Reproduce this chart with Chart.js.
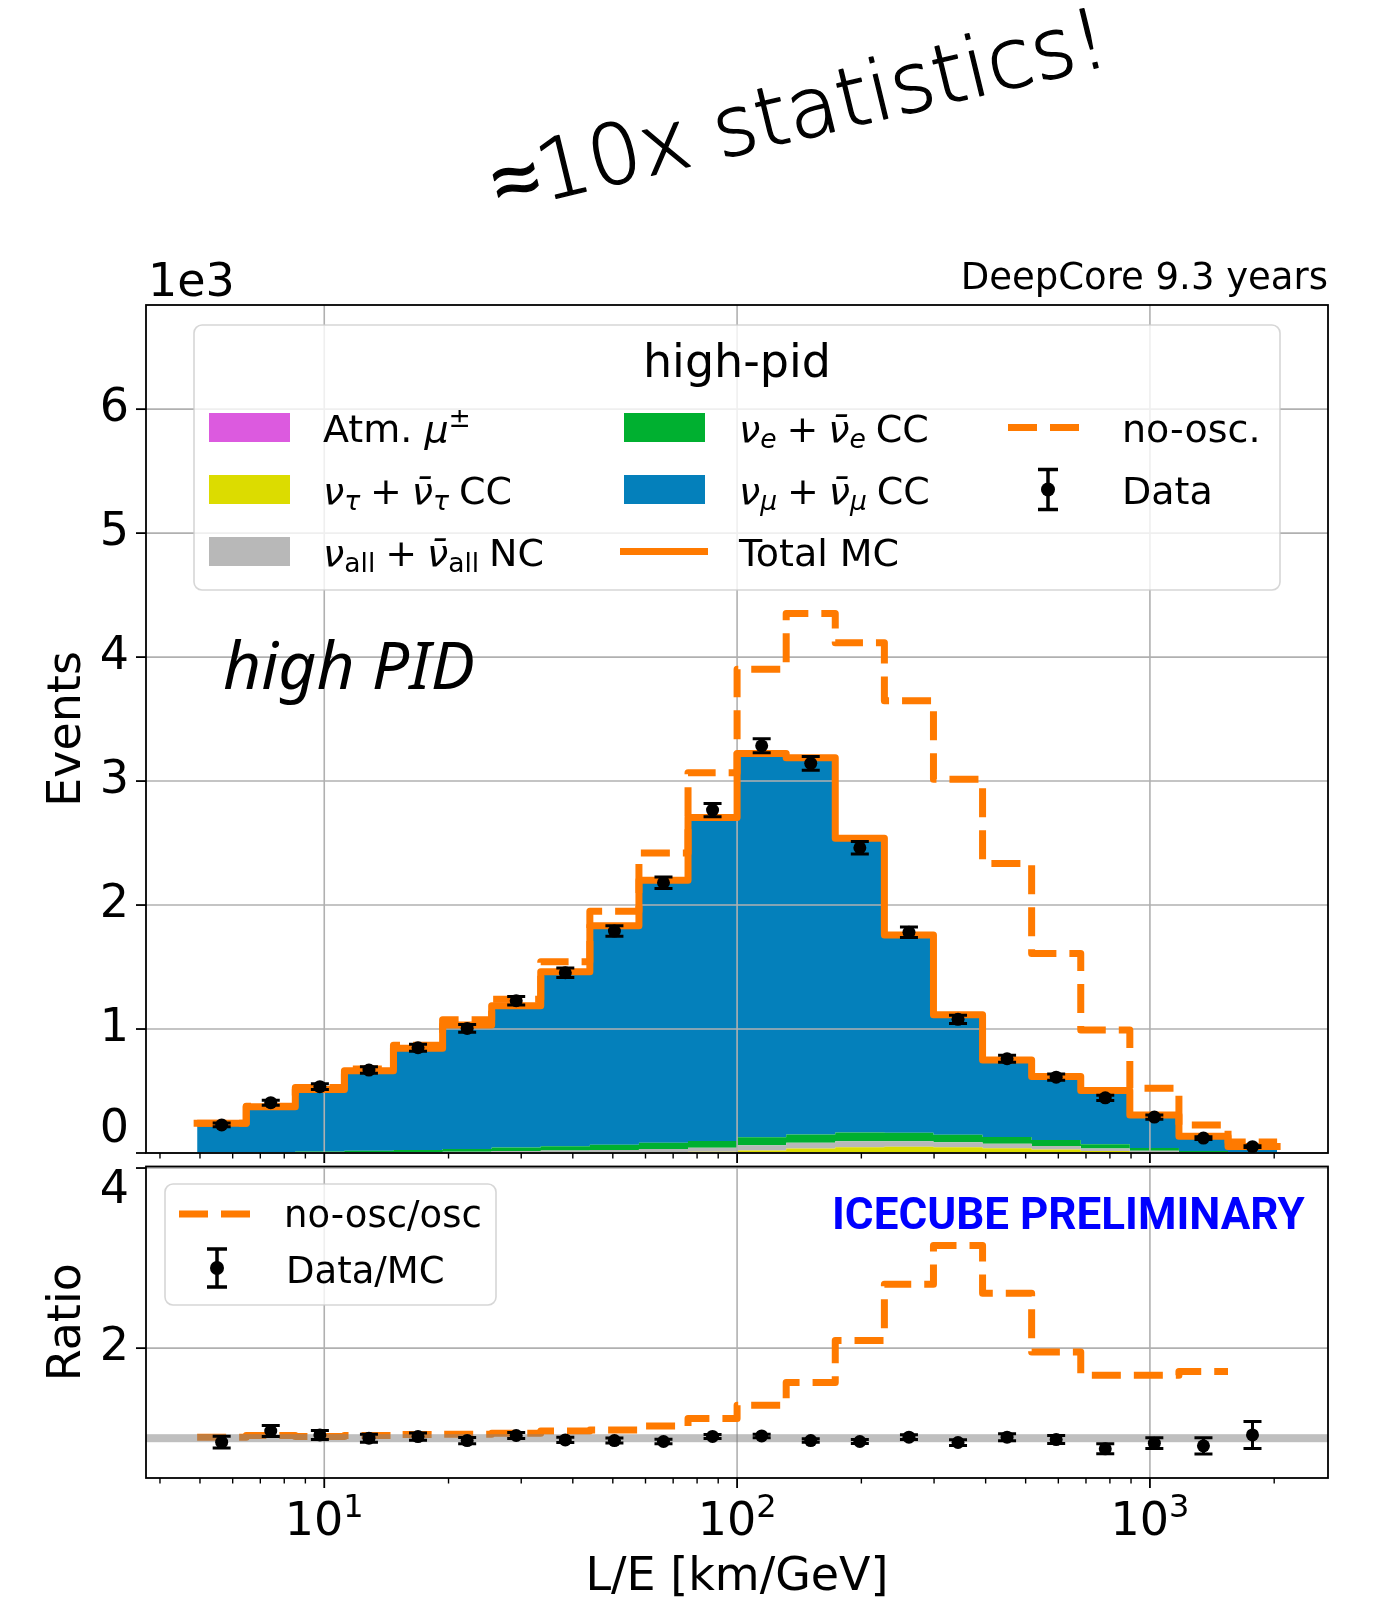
<!DOCTYPE html>
<html><head><meta charset="utf-8">
<script src="https://cdn.jsdelivr.net/npm/chart.js@4.4.0/dist/chart.umd.min.js"></script>
<style>
html,body{margin:0;padding:0;background:#fff;}
#wrap{position:relative;width:1378px;height:1602px;overflow:hidden;background:#fff;}
canvas{position:absolute;left:0;}
</style></head><body>
<div id="wrap">
<canvas id="main" width="1378" height="1165" style="top:0px"></canvas>
<canvas id="ratio" width="1378" height="446" style="top:1160px"></canvas>
</div>
<script>
// ---------------- data ----------------
const binEdges = [4.921, 6.471, 8.509, 11.19, 14.71, 19.35, 25.44, 33.45, 43.99, 57.84, 76.06, 100.0, 131.5, 172.9, 227.4, 299.0, 393.2, 517.0, 679.9, 894.0, 1175.6, 1545.9, 2032.8];
const binCenters = [5.643, 7.420, 9.759, 12.83, 16.87, 22.19, 29.17, 38.36, 50.45, 66.33, 87.21, 114.7, 150.8, 198.3, 260.8, 342.9, 450.8, 592.8, 779.5, 1025, 1348, 1772];

const atmMu   = [0,0,0,0,0,0,1,1,1,1,2,2,2,2,2,1,1,1,1,0,0,0];
const nuTauCC = [0,0,0,0,0,1,2,3,4,6,8,19,35,45,48,45,38,28,15,6,2,1];
const nuAllNC = [2,3,4,6,8,10,13,16,20,26,32,42,45,48,45,40,35,28,20,12,5,2];
const nuECC   = [3,5,8,12,17,22,28,35,42,50,55,65,68,70,68,62,55,48,35,22,10,4];
const nuMuCC  = [234,365,501,646,819,999,1144,1407,1766,2117,2610,3095,3038,2373,1595,967,621,513,433,266,118,45];
const totalMC = [239,373,513,664,844,1032,1188,1462,1833,2200,2707,3223,3188,2538,1758,1115,750,618,504,306,135,52];
const noOsc   = [240,378,528,678,870,1075,1240,1543,1950,2420,3067,3901,4352,4115,3648,3014,2336,1610,992,522,226,88];
const dataCounts = [226,406,535,669,849,1005,1228,1454,1790,2180,2766,3285,3143,2462,1780,1078,760,612,445,290,120,51];
const dataErrors = [15,20,23,26,29,32,35,38,42,47,53,57,56,50,42,33,28,25,21,17,11,7];

const ratioNoOsc = [1.01,1.03,1.02,1.03,1.04,1.045,1.055,1.08,1.09,1.135,1.22,1.367,1.618,2.085,2.71,3.14,2.61,1.956,1.70,1.70,1.74];
const ratioData = [0.956,1.08,1.036,1.0,1.018,0.974,1.03,0.981,0.974,0.963,1.02,1.025,0.974,0.963,1.011,0.952,1.011,0.985,0.882,0.945,0.915,1.036];
const ratioDataErr = [0.065,0.06,0.05,0.045,0.04,0.035,0.032,0.03,0.027,0.025,0.022,0.02,0.02,0.022,0.026,0.032,0.038,0.045,0.055,0.06,0.09,0.15];

const mainYTicks = [0,1000,2000,3000,4000,5000,6000];
const mainYTickLabels = ['0','1','2','3','4','5','6'];
const ratioYTicks = [2,4];
const ratioYTickLabels = ['2','4'];
const xMajorTicks = [10,100,1000];
const xTickExponents = ['1','2','3'];
const xMinorTicks = [4,5,6,7,8,9,20,30,40,50,60,70,80,90,200,300,400,500,600,700,800,900,2000];

// ---------------- style ----------------
const FONT = "'DejaVu Sans', sans-serif";
const ORANGE = '#ff7a00';
const LW = 7;
const DASH = [29, 13];
const COL = {mu:'#dc5adf', tau:'#dcdc00', nc:'#b8b8b8', e:'#00b030', numu:'#0480bb'};
const X_MIN = 3.70, X_MAX = 2700;

Chart.defaults.font.family = FONT;
Chart.defaults.color = '#000';

function stepPoints(vals){
  const pts = vals.map((v,i)=>({x:binEdges[i], y:v}));
  pts.push({x:binEdges[vals.length], y:vals[vals.length-1]});
  return pts;
}
function fillDs(label, vals, color, fill){
  return {label, data: stepPoints(vals), stepped:'before', backgroundColor: color,
    borderColor:'rgba(0,0,0,0)', borderWidth:0, pointRadius:0, fill, stack:'mc', order:10};
}

function drawGrid(chart, yTicks){
  const {ctx, chartArea:a, scales:{x,y}} = chart;
  ctx.save();
  ctx.strokeStyle = '#b0b0b0'; ctx.lineWidth = 1.6;
  yTicks.forEach(v=>{
    const py = y.getPixelForValue(v);
    if (py < a.top-0.5 || py > a.bottom+0.5) return;
    ctx.beginPath(); ctx.moveTo(a.left,py); ctx.lineTo(a.right,py); ctx.stroke();
  });
  xMajorTicks.forEach(v=>{
    const px = x.getPixelForValue(v);
    if (px < a.left || px > a.right) return;
    ctx.beginPath(); ctx.moveTo(px,a.top); ctx.lineTo(px,a.bottom); ctx.stroke();
  });
  ctx.restore();
}

function drawErrorBars(chart){
  const ctx = chart.ctx, ys = chart.scales.y;
  chart.data.datasets.forEach((ds,di)=>{
    if (!ds.errors) return;
    const meta = chart.getDatasetMeta(di);
    ctx.save(); ctx.strokeStyle = '#000'; ctx.lineWidth = 3;
    meta.data.forEach((pt,i)=>{
      const v = ds.data[i].y, e = ds.errors[i];
      const y1 = ys.getPixelForValue(v-e), y2 = ys.getPixelForValue(v+e);
      ctx.beginPath();
      ctx.moveTo(pt.x,y1); ctx.lineTo(pt.x,y2);
      ctx.moveTo(pt.x-9,y1); ctx.lineTo(pt.x+9,y1);
      ctx.moveTo(pt.x-9,y2); ctx.lineTo(pt.x+9,y2);
      ctx.stroke();
    });
    ctx.restore();
  });
}

function drawFrame(chart, yTicks, yLabels){
  const {ctx, chartArea:a, scales:{x,y}} = chart;
  ctx.save();
  ctx.strokeStyle = '#000'; ctx.lineWidth = 1.8;
  ctx.strokeRect(a.left, a.top, a.right-a.left, a.bottom-a.top);
  ctx.lineWidth = 1.8;
  xMajorTicks.forEach(v=>{
    const px = x.getPixelForValue(v);
    ctx.beginPath(); ctx.moveTo(px,a.bottom); ctx.lineTo(px,a.bottom+10); ctx.stroke();
  });
  ctx.lineWidth = 1.4;
  xMinorTicks.forEach(v=>{
    const px = x.getPixelForValue(v);
    if (px < a.left || px > a.right) return;
    ctx.beginPath(); ctx.moveTo(px,a.bottom); ctx.lineTo(px,a.bottom+5.5); ctx.stroke();
  });
  ctx.lineWidth = 1.8;
  ctx.fillStyle = '#000'; ctx.font = '46px ' + FONT; ctx.textAlign = 'right';
  yTicks.forEach((v,i)=>{
    const py = y.getPixelForValue(v);
    ctx.beginPath(); ctx.moveTo(a.left-10,py); ctx.lineTo(a.left,py); ctx.stroke();
    ctx.textBaseline = Math.abs(py-a.bottom) < 3 ? 'bottom' : (Math.abs(py-a.top) < 4 ? 'top' : 'middle');
    ctx.fillText(yLabels[i], a.left-17, py);
  });
  ctx.restore();
}

// runs: [text, kind]; kind 'r' roman, 'i' italic, 'sub' roman subscript, 'subi' italic subscript,
// 'sup' superscript, 'sp' = horizontal gap given in em
function drawRich(ctx, runs, x, y, size){
  let cx = x;
  ctx.textAlign = 'left'; ctx.textBaseline = 'alphabetic';
  for (const [t,k] of runs){
    if (k === 'sp'){ cx += t*size; continue; }
    const small = (k==='sub'||k==='subi'||k==='sup');
    const it = (k==='i'||k==='subi');
    const fs = small ? size*0.7 : size;
    ctx.font = (it ? 'italic ' : '') + fs + 'px ' + FONT;
    const dy = (k==='sub'||k==='subi') ? size*0.15 : (k==='sup' ? -size*0.4 : 0);
    ctx.fillText(t, cx, y+dy);
    cx += ctx.measureText(t).width;
  }
}

function roundRect(ctx,x,y,w,h,r){
  ctx.beginPath(); ctx.moveTo(x+r,y);
  ctx.arcTo(x+w,y,x+w,y+h,r); ctx.arcTo(x+w,y+h,x,y+h,r);
  ctx.arcTo(x,y+h,x,y,r); ctx.arcTo(x,y,x+w,y,r); ctx.closePath();
}

function legendBox(ctx,x,y,w,h){
  roundRect(ctx,x,y,w,h,8);
  ctx.fillStyle = 'rgba(255,255,255,0.8)'; ctx.fill();
  ctx.strokeStyle = 'rgba(204,204,204,0.8)'; ctx.lineWidth = 1.6; ctx.stroke();
}

function dataMarker(ctx, x, y, half, r){
  ctx.strokeStyle = '#000'; ctx.fillStyle = '#000'; ctx.lineWidth = 3.5; ctx.setLineDash([]);
  ctx.beginPath();
  ctx.moveTo(x,y-half); ctx.lineTo(x,y+half);
  ctx.moveTo(x-10,y-half); ctx.lineTo(x+10,y-half);
  ctx.moveTo(x-10,y+half); ctx.lineTo(x+10,y+half);
  ctx.stroke();
  ctx.beginPath(); ctx.arc(x,y,r,0,Math.PI*2); ctx.fill();
}

const G = 0.26; // gap around binary operator, em
const mainLegendRows = [
  {x:209, tx:323, base:442, patch:COL.mu,  runs:[['Atm. ','r'],['μ','i'],['±','sup']]},
  {x:209, tx:323, base:504, patch:COL.tau, runs:[['ν','i'],['τ','subi'],[G,'sp'],['+','r'],[G,'sp'],['ν̄','i'],['τ','subi'],[G,'sp'],['CC','r']]},
  {x:209, tx:323, base:566, patch:COL.nc,  runs:[['ν','i'],['all','sub'],[G,'sp'],['+','r'],[G,'sp'],['ν̄','i'],['all','sub'],[G,'sp'],['NC','r']]},
  {x:624, tx:739, base:442, patch:COL.e,   runs:[['ν','i'],['e','subi'],[G,'sp'],['+','r'],[G,'sp'],['ν̄','i'],['e','subi'],[G,'sp'],['CC','r']]},
  {x:624, tx:739, base:504, patch:COL.numu,runs:[['ν','i'],['μ','subi'],[G,'sp'],['+','r'],[G,'sp'],['ν̄','i'],['μ','subi'],[G,'sp'],['CC','r']]},
  {x:620, tx:739, base:566, line:'solid',  runs:[['Total MC','r']]},
  {x:1008, tx:1122, base:442, line:'dash', runs:[['no-osc.','r']]},
  {x:1048, tx:1122, base:504, data:true,   runs:[['Data','r']]}
];

const mainPlugin = {
  id:'mainDecor',
  afterDatasetDraw(chart, args){ if (args.index === 0) drawGrid(chart, mainYTicks); },
  afterDatasetsDraw(chart){ drawErrorBars(chart); },
  afterDraw(chart){
    const ctx = chart.ctx;
    drawFrame(chart, mainYTicks, mainYTickLabels);
    ctx.save();
    ctx.fillStyle = '#000';
    ctx.textBaseline = 'alphabetic';
    ctx.font = '46px ' + FONT; ctx.textAlign = 'left';
    ctx.fillText('1e3', 148, 296);
    ctx.font = '37px ' + FONT; ctx.textAlign = 'right';
    ctx.fillText('DeepCore 9.3 years', 1328, 289);
    ctx.font = "italic 66px 'Noto Sans', sans-serif"; ctx.textAlign = 'left';
    ctx.fillText('high PID', 223, 689);
    // handwritten note
    ctx.save();
    ctx.translate(500, 212); ctx.rotate(-13.6*Math.PI/180);
    ctx.font = "300 83px 'DejaVu Sans', sans-serif"; ctx.textAlign = 'left';
    ctx.strokeStyle = '#000'; ctx.lineWidth = 1.4; ctx.lineJoin = 'round';
    ctx.fillText('≈10x statistics!', 0, 0);
    ctx.strokeText('≈10x statistics!', 0, 0);
    ctx.restore();
    // legend
    legendBox(ctx, 194, 325, 1086, 265);
    ctx.fillStyle = '#000'; ctx.font = '46px ' + FONT; ctx.textAlign = 'center';
    ctx.fillText('high-pid', 737, 377);
    mainLegendRows.forEach(r=>{
      const cy = r.base - 14.5;
      if (r.patch){ ctx.fillStyle = r.patch; ctx.fillRect(r.x, r.base-29, 81, 29); }
      else if (r.line){
        ctx.strokeStyle = ORANGE; ctx.lineWidth = LW;
        ctx.setLineDash(r.line === 'dash' ? DASH : []);
        ctx.beginPath(); ctx.moveTo(r.x, cy); ctx.lineTo(r.x + (r.line==='dash'?74:88), cy); ctx.stroke();
        ctx.setLineDash([]);
      } else if (r.data){ dataMarker(ctx, r.x, cy, 20, 7); }
      ctx.fillStyle = '#000';
      drawRich(ctx, r.runs, r.tx, r.base, 38);
    });
    ctx.restore();
  }
};

new Chart(document.getElementById('main'), {
  type:'line',
  data:{datasets:[
    fillDs('Atm. μ±', atmMu, COL.mu, 'origin'),
    fillDs('ντ + ν̄τ CC', nuTauCC, COL.tau, '-1'),
    fillDs('νall + ν̄all NC', nuAllNC, COL.nc, '-1'),
    fillDs('νe + ν̄e CC', nuECC, COL.e, '-1'),
    fillDs('νμ + ν̄μ CC', nuMuCC, COL.numu, '-1'),
    {label:'no-osc.', data:stepPoints(noOsc), stepped:'before', borderColor:ORANGE, borderWidth:LW,
      borderDash:DASH, borderJoinStyle:'round', pointRadius:0, fill:false, stack:'noosc', order:3},
    {label:'Total MC', data:stepPoints(totalMC), stepped:'before', borderColor:ORANGE, borderWidth:LW,
      borderJoinStyle:'round', borderCapStyle:'square', pointRadius:0, fill:false, stack:'tot', order:2},
    {type:'scatter', label:'Data', data:binCenters.map((c,i)=>({x:c, y:dataCounts[i]})), errors:dataErrors,
      backgroundColor:'#000', borderColor:'#000', pointRadius:6.5, pointBorderWidth:0, stack:'dat', order:0}
  ]},
  options:{
    responsive:false, animation:false, devicePixelRatio:1,
    layout:{padding:{top:305, left:0, right:50, bottom:0}},
    plugins:{legend:{display:false}, tooltip:{enabled:false}},
    scales:{
      x:{type:'logarithmic', min:X_MIN, max:X_MAX, grid:{display:false}, border:{display:false},
         ticks:{display:false}, afterFit(s){ s.height = 12; }},
      y:{stacked:true, min:0, max:6840, grid:{display:false}, border:{display:false}, ticks:{display:false},
         title:{display:true, text:'Events', font:{family:FONT, size:46}, color:'#000', padding:{top:40, bottom:0}},
         afterFit(s){ s.width = 146; }}
    }
  },
  plugins:[mainPlugin]
});

const ratioPlugin = {
  id:'ratioDecor',
  beforeDatasetsDraw(chart){ drawGrid(chart, ratioYTicks); },
  afterDatasetDraw(chart, args){
    if (args.index !== 0) return;
    const {ctx, chartArea:a, scales:{y}} = chart;
    const py = y.getPixelForValue(1);
    ctx.save(); ctx.fillStyle = 'rgba(128,128,128,0.5)';
    ctx.fillRect(a.left, py-4, a.right-a.left, 8); ctx.restore();
  },
  afterDatasetsDraw(chart){ drawErrorBars(chart); },
  afterDraw(chart){
    const {ctx, scales:{x}} = chart;
    drawFrame(chart, ratioYTicks, ratioYTickLabels);
    ctx.save();
    ctx.fillStyle = '#000'; ctx.textBaseline = 'alphabetic'; ctx.textAlign = 'left';
    xMajorTicks.forEach((v,i)=>{
      const px = x.getPixelForValue(v);
      ctx.font = '46px ' + FONT; const w1 = ctx.measureText('10').width;
      ctx.font = '32px ' + FONT; const w2 = ctx.measureText(xTickExponents[i]).width;
      const start = px - (w1+w2)/2;
      ctx.font = '46px ' + FONT; ctx.fillText('10', start, 375);
      ctx.font = '32px ' + FONT; ctx.fillText(xTickExponents[i], start+w1, 375-18);
    });
    ctx.fillStyle = '#0000ff'; ctx.font = "bold 44px Roboto, sans-serif";
    ctx.fillText('ICECUBE PRELIMINARY', 832, 69);
    legendBox(ctx, 165, 24, 331, 121);
    ctx.strokeStyle = ORANGE; ctx.lineWidth = LW; ctx.setLineDash(DASH);
    ctx.beginPath(); ctx.moveTo(179, 54); ctx.lineTo(253, 54); ctx.stroke(); ctx.setLineDash([]);
    dataMarker(ctx, 217, 108, 19, 7);
    ctx.fillStyle = '#000';
    drawRich(ctx, [['no-osc/osc','r']], 284, 67, 37);
    drawRich(ctx, [['Data/MC','r']], 286, 123, 37);
    ctx.restore();
  }
};

new Chart(document.getElementById('ratio'), {
  type:'line',
  data:{datasets:[
    {label:'no-osc/osc', data:stepPoints(ratioNoOsc), stepped:'before', borderColor:ORANGE, borderWidth:LW,
      borderDash:DASH, borderJoinStyle:'round', pointRadius:0, fill:false, order:1},
    {type:'scatter', label:'Data/MC', data:binCenters.map((c,i)=>({x:c, y:ratioData[i]})), errors:ratioDataErr,
      backgroundColor:'#000', borderColor:'#000', pointRadius:6.5, pointBorderWidth:0, order:0}
  ]},
  options:{
    responsive:false, animation:false, devicePixelRatio:1,
    layout:{padding:{top:5, left:0, right:50, bottom:0}},
    plugins:{legend:{display:false}, tooltip:{enabled:false}},
    scales:{
      x:{type:'logarithmic', min:X_MIN, max:X_MAX, grid:{display:false}, border:{display:false},
         ticks:{display:false},
         title:{display:true, text:'L/E [km/GeV]', font:{family:FONT, size:46}, color:'#000', padding:{top:0, bottom:0}},
         afterFit(s){ s.height = 128; }},
      y:{min:0.558, max:4.017, grid:{display:false}, border:{display:false}, ticks:{display:false},
         title:{display:true, text:'Ratio', font:{family:FONT, size:46}, color:'#000', padding:{top:40, bottom:0}},
         afterFit(s){ s.width = 146; }}
    }
  },
  plugins:[ratioPlugin]
});
</script>
</body></html>
